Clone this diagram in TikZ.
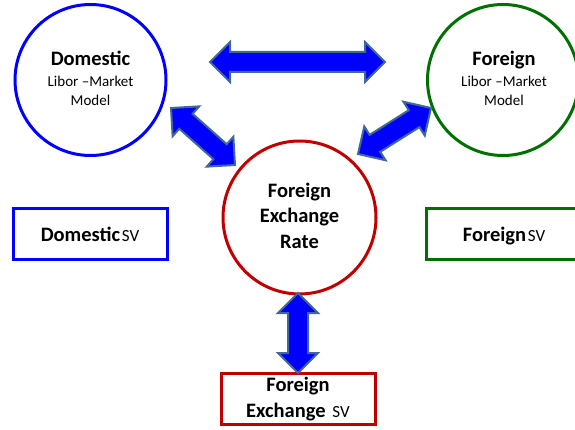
\documentclass[tikz,border=0pt]{standalone}
\usepackage{fontspec}
\setmainfont{Carlito}
\usetikzlibrary{calc}
\definecolor{domblue}{RGB}{0,0,255}
\definecolor{forgreen}{RGB}{0,112,0}
\definecolor{fxred}{RGB}{192,0,0}
\definecolor{arrfill}{RGB}{0,0,255}
\definecolor{arredge}{RGB}{65,105,150}
\newcommand{\bigtxt}{\fontsize{20.5}{25.5}\selectfont\bfseries}
\newcommand{\smalltxt}{\fontsize{15}{19.5}\selectfont}
\newcommand{\svtxt}{\fontsize{17}{20}\selectfont\mdseries}
\newcommand{\hl}{20pt}
\newcommand{\hw}{20pt}
\newcommand{\sw}{10pt}
\newcommand{\dblarrow}[2]{%
  \draw[fatarrow] (#1)
    -- ($(#1)!\hl!(#2)!\hw!90:(#2)$)
    -- ($(#1)!\hl!(#2)!\sw!90:(#2)$)
    -- ($(#2)!\hl!(#1)!\sw!-90:(#1)$)
    -- ($(#2)!\hl!(#1)!\hw!-90:(#1)$)
    -- (#2)
    -- ($(#2)!\hl!(#1)!\hw!90:(#1)$)
    -- ($(#2)!\hl!(#1)!\sw!90:(#1)$)
    -- ($(#1)!\hl!(#2)!\sw!-90:(#2)$)
    -- ($(#1)!\hl!(#2)!\hw!-90:(#2)$)
    -- cycle;}
\begin{document}
\begin{tikzpicture}[x=1pt,y=-1pt,
  model/.style={circle,line width=3pt,minimum size=151pt,inner sep=0pt,align=center},
  svbox/.style={rectangle,line width=3pt,inner sep=0pt,align=center},
  modeltxt/.style={align=center,font=\smalltxt,inner sep=0pt},
  bigtext/.style={align=center,font=\bigtxt,inner sep=0pt},
  fatarrow/.style={fill=arrfill,draw=arredge,line width=2pt,line join=miter}]
\useasboundingbox (0,0) rectangle (575,430);
\begin{scope}
\clip (0,0) rectangle (575,430);
% circles
\node[model,draw=domblue] (dom) at (90.5,80) {};
\node[modeltxt,anchor=base] (domtxt) at (90.5,106) {{\bigtxt Domestic}\\[1pt]Libor –Market\\Model};
\node[model,draw=forgreen] (for) at (503,80) {};
\node[modeltxt,anchor=base] (fortxt) at (504,106) {{\bigtxt Foreign}\\[1pt]Libor –Market\\Model};
\node[model,draw=fxred,minimum size=153pt] (fx) at (299.5,217.5) {};
\node[bigtext,anchor=base] (fxtxt) at (299.5,248) {Foreign\\Exchange\\Rate};
% boxes
\node[svbox,draw=domblue,minimum width=154pt,minimum height=50pt] (domsv) at (90,234) {};
\node[anchor=base,inner sep=0pt] (domsvtxt) at (90,242) {{\bigtxt Domestic}\,{\svtxt SV}};
\node[svbox,draw=forgreen,minimum width=154pt,minimum height=50pt] (forsv) at (503,234) {};
\node[anchor=base,inner sep=0pt] (forsvtxt) at (504,242) {{\bigtxt Foreign}\,{\svtxt SV}};
\node[svbox,draw=fxred,minimum width=154pt,minimum height=51pt] (fxsv) at (298,398.5) {};
\node[bigtext,anchor=base] (fxsvtxt) at (298,417) {Foreign\\Exchange\,\,{\svtxt SV}};
% arrow end points
\coordinate (h1) at (210,62);
\coordinate (h2) at (385,62);
\coordinate (d1) at (171,108);
\coordinate (d2) at (235,165);
\coordinate (f1) at (431,108);
\coordinate (f2) at (358,154);
\coordinate (v1) at (298,293);
\coordinate (v2) at (298,373);
\dblarrow{h1}{h2}
\dblarrow{d1}{d2}
\dblarrow{f1}{f2}
\dblarrow{v1}{v2}
\end{scope}
\end{tikzpicture}
\end{document}
